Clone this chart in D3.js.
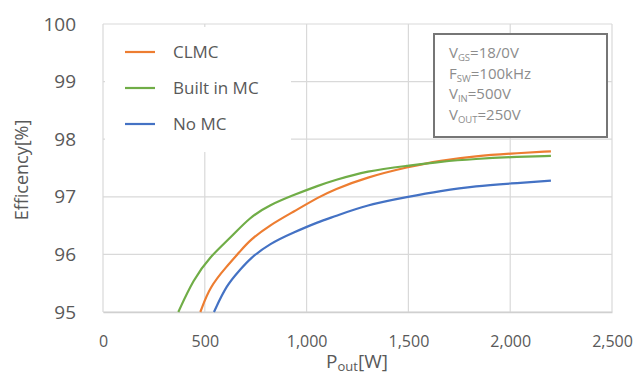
<!DOCTYPE html>
<html>
<head>
  <meta charset="utf-8">
  <script src="https://cdn.jsdelivr.net/npm/d3@7"></script>
  <style>
    body { margin: 0; background: #fff; }
    text { font-family: "Open Sans", sans-serif; fill: #595959; }
  </style>
</head>
<body>
  <script>
    var width = 635;
    var height = 376;

    // data: P_out [W] and efficiency [%]
    var clmcP   = [478, 525, 607, 673, 722, 820, 935, 1062, 1131, 1295, 1500, 1655, 1835, 1999, 2200];
    var clmcEff = [95.0, 95.44, 95.79, 96.05, 96.25, 96.51, 96.74, 97.0, 97.12, 97.34, 97.52, 97.63, 97.71, 97.75, 97.79];
    var builtP   = [370, 443, 525, 624, 722, 820, 935, 1062, 1131, 1295, 1500, 1655, 1835, 1999, 2200];
    var builtEff = [95.0, 95.56, 95.96, 96.28, 96.65, 96.86, 97.03, 97.2, 97.28, 97.45, 97.54, 97.61, 97.66, 97.69, 97.71];
    var noP   = [545, 607, 673, 722, 820, 935, 1062, 1131, 1295, 1500, 1655, 1835, 1999, 2200];
    var noEff = [95.0, 95.47, 95.73, 95.93, 96.19, 96.38, 96.57, 96.65, 96.86, 97.0, 97.1, 97.19, 97.23, 97.28];

    var seriesNames = ["CLMC", "Built in MC", "No MC"];
    var seriesColors = ["#ED7D31", "#70AD47", "#4472C4"];
    var xTicks = [0, 500, 1000, 1500, 2000, 2500];
    var yTicks = [95, 96, 97, 98, 99, 100];

    var svg = d3.select("body")
      .append("svg")
      .attr("width", width)
      .attr("height", height);

    var x = d3.scaleLinear().domain([0, 2500]).range([103, 612]);
    var y = d3.scaleLinear().domain([95, 100]).range([312, 24]);

    // grid
    svg.append("g").selectAll("line.h")
      .data(yTicks)
      .enter().append("line")
      .attr("x1", x(0)).attr("x2", x(2500))
      .attr("y1", function(d) { return y(d); })
      .attr("y2", function(d) { return y(d); })
      .style("stroke", "#d9d9d9").style("stroke-width", 1.2);
    svg.append("g").selectAll("line.v")
      .data(xTicks)
      .enter().append("line")
      .attr("y1", y(95)).attr("y2", y(100))
      .attr("x1", function(d) { return x(d); })
      .attr("x2", function(d) { return x(d); })
      .style("stroke", "#d9d9d9").style("stroke-width", 1.2);

    // axes
    var xAxis = svg.append("g")
      .attr("transform", "translate(0," + y(95) + ")")
      .call(d3.axisBottom(x).tickValues(xTicks).tickSize(0).tickPadding(24).tickFormat(d3.format(",")));
    xAxis.select(".domain").style("stroke", "#d0d0d0").style("stroke-width", 1.5);
    xAxis.selectAll("text").style("font-size", "16px").style("fill", "#595959");

    var yAxis = svg.append("g")
      .attr("transform", "translate(" + 76 + ",0)")
      .call(d3.axisLeft(y).tickValues(yTicks).tickSize(0).tickPadding(0).tickFormat(d3.format("d")));
    yAxis.select(".domain").remove();
    yAxis.selectAll("text").style("font-size", "19px").style("fill", "#595959");

    // axis titles
    var xt = svg.append("text")
      .attr("x", 357).attr("y", 368)
      .attr("text-anchor", "middle")
      .style("font-size", "19px");
    xt.append("tspan").text("P");
    xt.append("tspan").attr("dy", 3).style("font-size", "13px").text("out");
    xt.append("tspan").attr("dy", -3).text("[W]");

    svg.append("text")
      .attr("transform", "translate(28,170) rotate(-90)")
      .attr("text-anchor", "middle")
      .style("font-size", "18px")
      .text("Efficency[%]");

    // lines
    var line = d3.line()
      .x(function(d) { return x(d[0]); })
      .y(function(d) { return y(d[1]); })
      .curve(d3.curveBasis);

    var series = [d3.zip(clmcP, clmcEff), d3.zip(builtP, builtEff), d3.zip(noP, noEff)];
    svg.append("g").selectAll("path")
      .data(series)
      .enter().append("path")
      .attr("d", line)
      .style("fill", "none")
      .style("stroke", function(d, i) { return seriesColors[i]; })
      .style("stroke-width", 2.2);

    // legend
    svg.append("rect")
      .attr("x", 105).attr("y", 27).attr("width", 186).attr("height", 125)
      .style("fill", "#fff");
    var leg = svg.append("g").selectAll("g")
      .data(seriesNames)
      .enter().append("g")
      .attr("transform", function(d, i) { return "translate(125," + (52 + i * 36) + ")"; });
    leg.append("line")
      .attr("x1", 0).attr("x2", 30)
      .style("stroke", function(d, i) { return seriesColors[i]; })
      .style("stroke-width", 2.2);
    leg.append("text")
      .attr("x", 48).attr("dy", "0.35em")
      .style("font-size", "17px")
      .text(function(d) { return d; });

    // condition box
    svg.append("rect")
      .attr("x", 434).attr("y", 34).attr("width", 173).attr("height", 103)
      .style("fill", "#fff").style("stroke", "#767676").style("stroke-width", 2);
    var cond = [["V", "GS", "=18/0V"], ["F", "SW", "=100kHz"], ["V", "IN", "=500V"], ["V", "OUT", "=250V"]];
    cond.forEach(function(c, i) {
      var t = svg.append("text")
        .attr("x", 449).attr("y", 58 + i * 20.5)
        .style("font-size", "15px").style("fill", "#8c8c8c");
      t.append("tspan").text(c[0]);
      t.append("tspan").attr("dy", 3).style("font-size", "9.5px").style("fill", "#8c8c8c").text(c[1]);
      t.append("tspan").attr("dy", -3).style("fill", "#8c8c8c").text(c[2]);
    });
  </script>
</body>
</html>
